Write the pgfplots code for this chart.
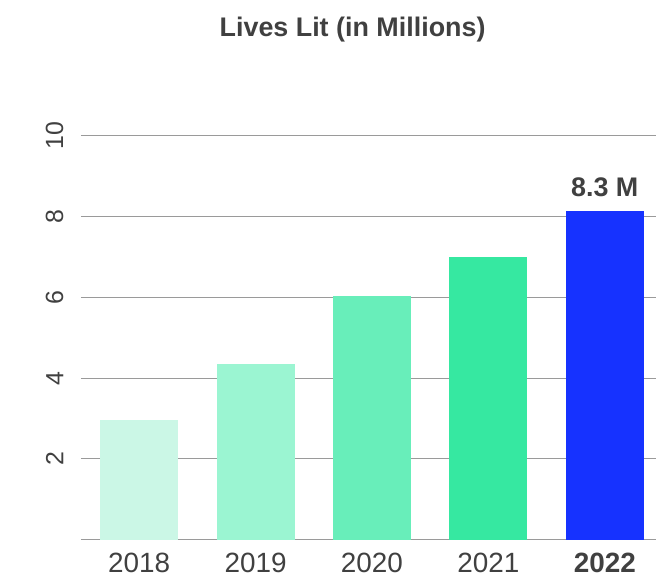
\documentclass[border=0pt]{standalone}
\usepackage{fontspec}
\setmainfont{Liberation Sans}
\usepackage{pgfplots}
\pgfplotsset{compat=1.18}
\definecolor{c18}{HTML}{CBF7E6}
\definecolor{c19}{HTML}{9BF5D2}
\definecolor{c20}{HTML}{68EEBA}
\definecolor{c21}{HTML}{36E8A1}
\definecolor{c22}{HTML}{1632FF}
\definecolor{txt}{HTML}{404040}
\definecolor{gridc}{HTML}{9A9A9A}
\begin{document}
\begin{tikzpicture}
\begin{axis}[
  at={(0,0)}, anchor=south west,
  scale only axis,
  width=576bp, height=404bp,
  xmin=-0.5, xmax=4.444,
  ymin=0, ymax=10,
  axis line style={draw=none},
  xtick={0,1,2,3,4},
  xticklabels={2018,2019,2020,2021,\textbf{2022}},
  ytick={0,2,4,6,8,10},
  yticklabels={,2,4,6,8,10},
  major tick length=0pt,
  ymajorgrids,
  grid style={gridc, line width=1.1bp},
  xticklabel style={font=\fontsize{28}{32}\selectfont, text=txt},
  yticklabel style={font=\fontsize{25}{30}\selectfont, text=txt, rotate=90, anchor=south},
  yticklabel shift=14bp,
  xticklabel shift=10bp,
  ybar, bar width=78bp, bar shift=0pt,
  title={\textbf{Lives Lit (in Millions)}},
  title style={font=\fontsize{27}{32}\selectfont, text=txt, at={(axis description cs:0.472,1)}, anchor=base, yshift=93bp},
  clip=false,
]
\addplot[fill=c18, draw=none] coordinates {(0,2.95)};
\addplot[fill=c19, draw=none] coordinates {(1,4.34)};
\addplot[fill=c20, draw=none] coordinates {(2,6.04)};
\addplot[fill=c21, draw=none] coordinates {(3,7.00)};
\addplot[fill=c22, draw=none, nodes near coords={\textbf{8.3 M}},
  every node near coord/.append style={font=\fontsize{27}{32}\selectfont, text=txt, anchor=base, yshift=14bp}] coordinates {(4,8.14)};
\end{axis}
\useasboundingbox (-81bp,-40bp) rectangle (576bp,540bp);
\end{tikzpicture}
\end{document}
